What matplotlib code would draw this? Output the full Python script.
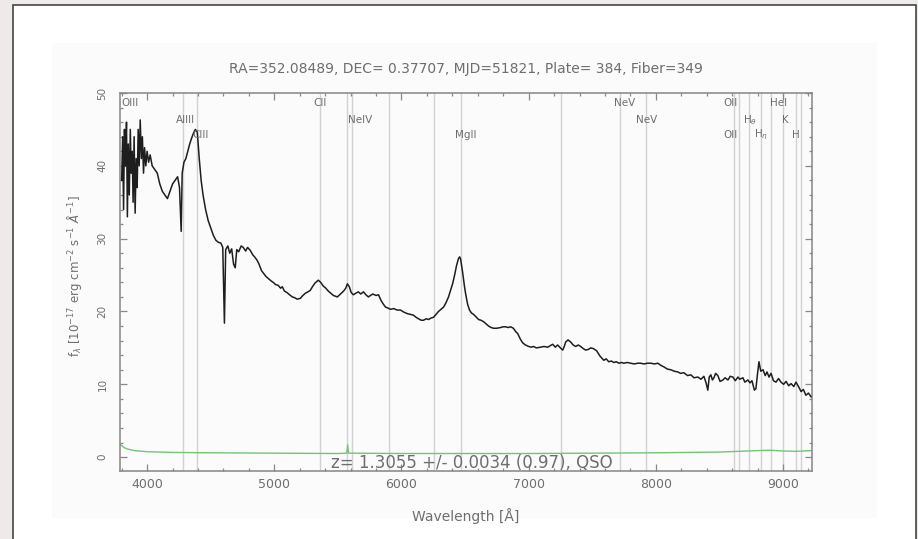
import matplotlib
matplotlib.use("Agg")
import matplotlib.pyplot as plt
from matplotlib.patches import Rectangle
from matplotlib import ticker
import numpy as np

wave = [3800, 3808, 3815, 3822, 3830, 3838, 3845, 3852, 3860, 3868, 3875, 3883, 3890, 3898,
        3906, 3914, 3922, 3930, 3938, 3946, 3955, 3963, 3972, 3980, 3990, 4000, 4012, 4024,
        4040, 4060, 4080, 4100, 4120, 4140, 4160, 4180, 4200, 4220, 4240, 4255, 4268, 4276,
        4290, 4305, 4320, 4335, 4350, 4365, 4380, 4395, 4410, 4425, 4440, 4460, 4480, 4500,
        4520, 4540, 4560, 4580, 4595, 4608, 4618, 4635, 4650, 4665, 4680, 4693, 4705, 4720,
        4740, 4756, 4775, 4790, 4811, 4830, 4850, 4866, 4880, 4900, 4913, 4935, 4955, 4975,
        4992, 5010, 5030, 5050, 5063, 5080, 5100, 5120, 5142, 5160, 5180, 5205, 5225, 5244,
        5265, 5283, 5300, 5320, 5346, 5365, 5385, 5405, 5425, 5445, 5465, 5496, 5520, 5545,
        5562, 5575, 5590, 5605, 5622, 5640, 5661, 5680, 5701, 5720, 5740, 5756, 5775, 5800,
        5819, 5840, 5858, 5875, 5890, 5915, 5940, 5965, 5992, 6020, 6047, 6070, 6094, 6115,
        6134, 6155, 6173, 6195, 6213, 6232, 6252, 6272, 6291, 6311, 6331, 6350, 6370, 6386,
        6402, 6418, 6433, 6449, 6458, 6465, 6480, 6495, 6504, 6520, 6535, 6550, 6567, 6590,
        6606, 6625, 6646, 6665, 6685, 6705, 6724, 6750, 6780, 6800, 6819, 6840, 6858, 6880,
        6900, 6913, 6935, 6953, 6975, 7000, 7020, 7039, 7060, 7094, 7120, 7150, 7170, 7189,
        7210, 7228, 7250, 7268, 7280, 7291, 7310, 7331, 7350, 7370, 7390, 7409, 7430, 7449,
        7470, 7488, 7510, 7535, 7560, 7591, 7610, 7630, 7650, 7669, 7690, 7709, 7730, 7748,
        7775, 7803, 7830, 7858, 7880, 7906, 7935, 7961, 7990, 8016, 8040, 8063, 8090, 8118,
        8145, 8173, 8195, 8220, 8250, 8276, 8300, 8331, 8355, 8378, 8395, 8409, 8420, 8433,
        8445, 8457, 8470, 8488, 8505, 8528, 8545, 8567, 8585, 8606, 8625, 8646, 8660, 8685,
        8700, 8724, 8740, 8756, 8775, 8787, 8800, 8811, 8825, 8843, 8860, 8874, 8890, 8906,
        8925, 8945, 8965, 8984, 9005, 9024, 9045, 9063, 9085, 9102, 9125, 9142, 9160, 9180,
        9200, 9220]
flux = [38.0, 44.0, 34.0, 45.0, 40.0, 46.0, 33.0, 43.0, 36.0, 45.0, 39.0, 42.0, 35.0, 44.0,
        33.5, 41.0, 37.0, 45.0, 40.0, 46.3, 41.0, 44.0, 39.0, 42.5, 40.0, 42.0, 40.5, 41.5,
        40.0, 39.5, 39.0, 37.5, 36.5, 36.0, 35.5, 36.5, 37.5, 38.0, 38.5, 37.0, 31.0, 39.0,
        40.5, 41.0, 42.0, 43.0, 43.8, 44.5, 45.0, 44.6, 41.0, 38.0, 36.0, 34.0, 32.5, 31.5,
        30.5, 29.8, 29.5, 29.4, 28.8, 18.4, 28.5, 29.0, 28.0, 28.6, 26.5, 26.0, 28.5, 28.2,
        29.0, 28.8, 28.3, 28.8, 28.4, 27.8, 27.4, 27.0, 26.5, 25.6, 25.3, 24.8, 24.5, 24.2,
        24.0, 23.7, 23.6, 23.2, 23.4, 22.8, 22.6, 22.3, 22.0, 21.9, 21.7, 21.8, 22.2, 22.5,
        22.7, 22.9, 23.4, 23.9, 24.3, 24.0, 23.5, 23.2, 22.8, 22.5, 22.2, 22.0, 22.4, 22.8,
        23.2, 23.8, 23.4, 22.6, 22.3, 22.5, 22.7, 22.4, 22.7, 22.3, 22.0, 22.2, 22.4, 22.2,
        22.3, 21.5, 21.0, 20.6, 20.5, 20.3, 20.4, 20.2, 20.2, 19.9, 19.7, 19.6, 19.5, 19.2,
        19.0, 18.8, 18.8, 19.0, 18.9, 19.1, 19.2, 19.6, 20.0, 20.3, 20.6, 21.2, 22.0, 22.9,
        23.8, 25.0, 26.3, 27.3, 27.5, 27.2, 25.5, 23.5, 22.5, 21.0, 20.2, 19.8, 19.6, 19.2,
        18.9, 18.8, 18.6, 18.3, 18.0, 17.8, 17.7, 17.7, 17.8, 17.9, 17.9, 17.8, 17.9, 17.7,
        17.2, 17.0, 16.2, 15.7, 15.4, 15.2, 15.1, 15.2, 15.0, 15.1, 15.2, 15.1, 15.3, 15.5,
        15.1, 15.4, 15.0, 14.7, 15.2, 15.8, 16.1, 15.8, 15.4, 15.2, 15.4, 15.2, 14.9, 14.7,
        14.8, 15.0, 14.9, 14.6, 13.9, 13.3, 13.5, 13.1, 13.2, 13.0, 13.1, 12.9, 13.0, 12.9,
        13.0, 12.9, 12.8, 12.9, 12.9, 12.8, 12.9, 12.9, 12.8, 12.9, 12.6, 12.4, 12.1, 12.0,
        11.8, 11.7, 11.5, 11.6, 11.2, 11.3, 10.9, 11.0, 10.7, 11.1, 10.2, 9.2, 11.0, 11.3,
        10.6, 10.9, 11.5, 11.2, 10.4, 10.6, 10.9, 10.6, 11.1, 11.0, 10.5, 11.0, 10.7, 10.9,
        10.3, 10.6, 10.2, 10.5, 9.2, 9.4, 11.5, 13.1, 11.8, 12.0, 11.2, 11.7, 11.0, 11.5,
        10.5, 10.3, 10.8, 10.3, 10.0, 10.4, 9.8, 10.1, 9.7, 10.3, 9.6, 9.0, 9.3, 8.5,
        8.8, 8.3]

# error spectrum (green)
err_wave = [3790, 3800, 3820, 3850, 3900, 4000, 4200, 4500, 5000, 5500, 5570, 5577, 5584,
            6000, 6500, 7000, 7500, 8000, 8500, 8800, 8900, 9000, 9100, 9225]
err_flux = [1.7, 1.6, 1.3, 1.1, 0.9, 0.75, 0.65, 0.6, 0.55, 0.5, 0.55, 1.7, 0.55,
            0.5, 0.5, 0.5, 0.55, 0.6, 0.7, 0.9, 0.95, 0.85, 0.8, 0.9]

# vertical line markers (observed wavelength)
line_waves = [4283, 4394, 5362, 5575, 5614, 5906, 6252, 6465, 7252, 7717, 7921,
              8614, 8654, 8732, 8827, 8906, 9000, 9102, 9142]

# labels: text, wavelength, row (0 = top)
lab_text = ["OIII", "AlIII", "CIII", "CII", "NeIV", "MgII", "NeV", "NeV", "OII", "OII",
            r"H$_\theta$", r"H$_\eta$", "HeI", "K", "H"]
lab_wave = [3866, 4299, 4417, 5362, 5675, 6504, 7756, 7929, 8590, 8590,
            8740, 8827, 8969, 9016, 9102]
lab_row = [0, 1, 2, 0, 1, 2, 0, 1, 0, 2, 1, 2, 0, 1, 2]

title = "RA=352.08489, DEC= 0.37707, MJD=51821, Plate= 384, Fiber=349"
ztext = "z= 1.3055 +/- 0.0034 (0.97), QSO"

txtc = "#6e6e6e"
plt.rcParams['font.family'] = ['DejaVu Sans']
plt.rcParams['font.size'] = 8

fig = plt.figure(figsize=(9.18, 5.39), dpi=100)
fig.patch.set_facecolor("#eeeaea")
W, H = 918.0, 539.0
# page frame
fig.patches.append(Rectangle((13 / W, -0.05), (916 - 13) / W, 1.05 - 5 / H,
                             transform=fig.transFigure, facecolor="white",
                             edgecolor="#444444", linewidth=1.2, zorder=-10))
fig.patches.append(Rectangle((52 / W, 1 - 518 / H), (877 - 52) / W, (518 - 43) / H,
                             transform=fig.transFigure, facecolor="#fbfbfb",
                             edgecolor="none", zorder=-9))

ax = fig.add_axes([120 / W, 1 - 471 / H, (812 - 120) / W, (471 - 93) / H])
ax.set_zorder(5)
ax.set_facecolor("none")

for lw in line_waves:
    ax.axvline(lw, color="#d2d2d2", linewidth=1.0, zorder=1)

ax.plot(err_wave, err_flux, color="#74c476", linewidth=1.0, zorder=2)
ax.plot(wave, flux, color="#1e1e1e", linewidth=1.1, zorder=3)

row_y = [0.974, 0.929, 0.890]
trans = ax.get_xaxis_transform()
for t, w, r in zip(lab_text, lab_wave, lab_row):
    ax.text(w, row_y[r], t, transform=trans, ha="center", va="center",
            fontsize=7.5, color=txtc, zorder=4)

ax.text(0.508, 0.022, ztext, transform=ax.transAxes, ha="center", va="center",
        fontsize=12, color=txtc)

ax.set_xlim(3787, 9228)
ax.set_ylim(-1.9, 50)
ax.xaxis.set_major_locator(ticker.MultipleLocator(1000))
ax.xaxis.set_minor_locator(ticker.MultipleLocator(200))
ax.yaxis.set_major_locator(ticker.MultipleLocator(10))
ax.yaxis.set_minor_locator(ticker.MultipleLocator(2))
ax.tick_params(which="both", direction="in", top=True, right=True, colors="#888888",
               labelcolor=txtc, width=0.9)
ax.tick_params(axis="x", labelsize=9, pad=5)
ax.tick_params(axis="y", labelsize=7.5, pad=9)
ax.tick_params(which="major", length=5)
ax.tick_params(which="minor", length=2.5)
for lab in ax.get_yticklabels():
    lab.set_rotation(90)
    lab.set_va("center")
for s in ax.spines.values():
    s.set_color("#858585")
    s.set_linewidth(1.1)

fig.text((120 + 812) / 2 / W, 1 - 69 / H, title, ha="center", va="center",
         fontsize=10, color=txtc)
fig.text(466 / W, 1 - 516 / H, "Wavelength [Å]", ha="center", va="center",
         fontsize=10, color=txtc)
fig.text(75 / W, 1 - 276 / H,
         r"f$_\lambda$ [10$^{-17}$ erg cm$^{-2}$ s$^{-1}$ $\AA^{-1}$]",
         rotation=90, ha="center", va="center", fontsize=8.5, color=txtc)

fig.savefig("out.png", dpi=100, facecolor=fig.get_facecolor())
